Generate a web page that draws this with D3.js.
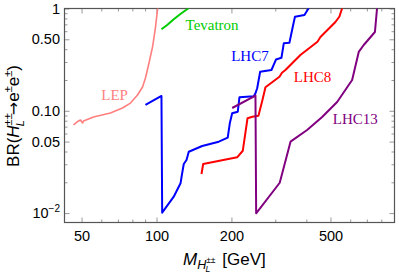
<!DOCTYPE html>
<html>
<head>
<meta charset="utf-8">
<script src="https://cdn.jsdelivr.net/npm/d3@7"></script>
<style>
  body { margin: 0; background: #fff; }
  svg { display: block; }
</style>
</head>
<body>
<svg id="chart" width="399" height="276"></svg>
<script>
// curves: [mass in GeV, BR]
var lep = [[46.4,0.0727],[48.6,0.0795],[49.5,0.0813],[50.5,0.0760],[50.9,0.0795],[55.8,0.0870],
  [65.3,0.0951],[73.0,0.1065],[78.6,0.119],[83.9,0.1427],[87.9,0.171],[90.3,0.209],[92.9,0.280],
  [96.4,0.420],[99.1,0.659],[100.9,0.966],[101.3,1.05]];
var tevatron = [[104.7,0.626],[110.4,0.690],[117.3,0.784],[124.8,0.884],[134.0,1.0],[136,1.04]];
var lhc7 = [[90.3,0.114],[104.7,0.1396],[105.4,0.0101],[117.3,0.01446],[124.9,0.01955],[126.8,0.0245],
  [128.7,0.0302],[132.0,0.0330],[134.8,0.0398],[152.6,0.0453],[177.9,0.0499],[193.3,0.0546],
  [197.0,0.0755],[201.4,0.0946],[212.1,0.098],[215.4,0.1355],[245.9,0.139],[249.7,0.148],
  [253.8,0.166],[260.9,0.241],[289.6,0.2505],[302,0.317],[317.7,0.330],[324.6,0.457],[342,0.463],
  [354,0.690],[360,0.832],[393,0.864],[413,1.05]];
var lhc8 = [[151.6,0.0241],[154.0,0.0302],[210.9,0.0351],[222.2,0.0407],[232.1,0.0845],[243.0,0.0875],
  [256.8,0.0896],[266.5,0.1276],[274.0,0.170],[311.9,0.2155],[319.2,0.2357],[329.6,0.2505],
  [378.6,0.351],[443.3,0.4735],[455.7,0.526],[523.4,0.738],[543.3,0.835],[560,1.05]];
var lhc13 = [[201.4,0.1065],[249.8,0.141],[251.4,0.00996],[312.7,0.0198],[345.5,0.0499],[402.8,0.0649],
  [462.9,0.0870],[531.8,0.122],[610.9,0.200],[649.4,0.376],[680.1,0.440],[754.3,0.589],[770.5,1.05]];

var seriesNames = ["LEP", "Tevatron", "LHC7", "LHC8", "LHC13"];
var seriesColors = ["#ff7f7f", "#00cc00", "#0000ff", "#ff0000", "#800080"];
// where each name is written, in data units
var labelMass = [60, 130.8, 199.5, 355.9, 510.6];
var labelBR = [0.128, 0.616, 0.309, 0.1925, 0.0735];

var xMajor = [50, 100, 200, 500];
var xMinor = [60, 70, 80, 90, 300, 400, 600, 700, 800, 900];
var yMajor = [0.01, 0.05, 0.1, 0.5, 1];
var yMinor = [0.02, 0.03, 0.04, 0.06, 0.07, 0.08, 0.09, 0.2, 0.3, 0.4, 0.6, 0.7, 0.8, 0.9];
var yTickText = {0.01: "", 0.05: "0.05", 0.1: "0.10", 0.5: "0.50", 1: "1"};

var pLeft = 64.5, pRight = 394.5, pTop = 8.5, pBottom = 222.5;

var svg = d3.select("#chart");
var x = d3.scaleLog().domain([42.7, 904]).range([pLeft, pRight]);
var y = d3.scaleLog().domain([0.008, 1]).range([pBottom + 0.5, pTop]);

svg.append("clipPath").attr("id", "plot")
  .append("rect").attr("x", pLeft).attr("y", pTop)
  .attr("width", pRight - pLeft).attr("height", pBottom - pTop);

function styleAxis(g) {
  g.select(".domain").remove();
  g.selectAll(".tick line").attr("stroke", "#999");
  g.selectAll("text").attr("fill", "#000")
    .attr("font-family", "Liberation Sans, Arial, sans-serif").attr("font-size", 14.5);
}

// major + minor ticks on all four sides, pointing inward
svg.append("g").attr("transform", "translate(0," + pBottom + ")")
  .call(d3.axisBottom(x).tickValues(xMajor).tickSizeInner(-5).tickSizeOuter(0)
    .tickPadding(8).tickFormat(d3.format("d"))).call(styleAxis);
svg.append("g").attr("transform", "translate(0," + pBottom + ")")
  .call(d3.axisBottom(x).tickValues(xMinor).tickSizeInner(-3).tickSizeOuter(0).tickFormat(""))
  .call(styleAxis);
svg.append("g").attr("transform", "translate(0," + pTop + ")")
  .call(d3.axisTop(x).tickValues(xMajor).tickSizeInner(-5).tickSizeOuter(0).tickFormat(""))
  .call(styleAxis);
svg.append("g").attr("transform", "translate(0," + pTop + ")")
  .call(d3.axisTop(x).tickValues(xMinor).tickSizeInner(-3).tickSizeOuter(0).tickFormat(""))
  .call(styleAxis);

var yAxis = svg.append("g").attr("transform", "translate(" + pLeft + ",0)")
  .call(d3.axisLeft(y).tickValues(yMajor).tickSizeInner(-5).tickSizeOuter(0)
    .tickPadding(4.5).tickFormat(function(d) { return yTickText[d]; })).call(styleAxis);
svg.append("g").attr("transform", "translate(" + pLeft + ",0)")
  .call(d3.axisLeft(y).tickValues(yMinor).tickSizeInner(-3).tickSizeOuter(0).tickFormat(""))
  .call(styleAxis);
svg.append("g").attr("transform", "translate(" + pRight + ",0)")
  .call(d3.axisRight(y).tickValues(yMajor).tickSizeInner(-5).tickSizeOuter(0).tickFormat(""))
  .call(styleAxis);
svg.append("g").attr("transform", "translate(" + pRight + ",0)")
  .call(d3.axisRight(y).tickValues(yMinor).tickSizeInner(-3).tickSizeOuter(0).tickFormat(""))
  .call(styleAxis);

// 10^-2 label
yAxis.selectAll(".tick").filter(function(d) { return d === 0.01; }).select("text")
  .each(function() {
    var t = d3.select(this);
    t.append("tspan").text("10");
    t.append("tspan").attr("font-size", 10).attr("dy", "-0.6em").text("\u22122");
  });

// frame
svg.append("rect").attr("x", pLeft).attr("y", pTop)
  .attr("width", pRight - pLeft).attr("height", pBottom - pTop)
  .attr("fill", "none").attr("stroke", "#555").attr("stroke-width", 1.2);

var line = d3.line().x(function(d) { return x(d[0]); }).y(function(d) { return y(d[1]); });
var curves = [lep, tevatron, lhc7, lhc8, lhc13];
var widths = [1.6, 2, 2, 2, 2];

svg.append("g").attr("clip-path", "url(#plot)")
  .selectAll("path").data(curves).enter().append("path")
  .attr("d", line)
  .attr("fill", "none")
  .attr("stroke", function(d, i) { return seriesColors[i]; })
  .attr("stroke-width", function(d, i) { return widths[i]; })
  .attr("stroke-linejoin", "round");

svg.append("g").selectAll("text").data(seriesNames).enter().append("text")
  .attr("x", function(d, i) { return x(labelMass[i]); })
  .attr("y", function(d, i) { return y(labelBR[i]); })
  .attr("fill", function(d, i) { return seriesColors[i]; })
  .attr("font-family", "Liberation Serif, Times New Roman, serif")
  .attr("font-size", 15)
  .text(function(d) { return d; });

// axis titles
var font = "Liberation Sans, Arial, sans-serif";
var xt = svg.append("text").attr("x", 183).attr("y", 265)
  .attr("font-family", font).attr("font-size", 17).attr("fill", "#000");
xt.append("tspan").attr("font-style", "italic").text("M");
xt.append("tspan").attr("font-style", "italic").attr("font-size", 12.5).attr("dy", 4).text("H");
xt.append("tspan").attr("font-size", 8.5).attr("dy", -6.5).text("\u00b1\u00b1");
xt.append("tspan").attr("font-style", "italic").attr("font-size", 8.5).attr("dx", -10).attr("dy", 9.5).text("L");
xt.append("tspan").attr("dx", 12).attr("dy", -7).text("[GeV]");

var yt = svg.append("text").attr("transform", "translate(19,116) rotate(-90)")
  .attr("text-anchor", "middle")
  .attr("font-family", font).attr("font-size", 17).attr("fill", "#000");
yt.append("tspan").text("BR(");
yt.append("tspan").attr("font-style", "italic").text("H");
yt.append("tspan").attr("font-size", 11).attr("dy", -7).text("\u00b1\u00b1");
yt.append("tspan").attr("font-style", "italic").attr("font-size", 11).attr("dx", -13).attr("dy", 12).text("L");
yt.append("tspan").attr("dx", 5).attr("dy", -5).attr("font-family", "DejaVu Sans").attr("font-size", 16).text("\u2192");
yt.append("tspan").text("e");
yt.append("tspan").attr("font-size", 11).attr("dy", -7).text("\u00b1");
yt.append("tspan").attr("dy", 7).text("e");
yt.append("tspan").attr("font-size", 11).attr("dy", -7).text("\u00b1");
yt.append("tspan").attr("dy", 7).text(")");
</script>
</body>
</html>
